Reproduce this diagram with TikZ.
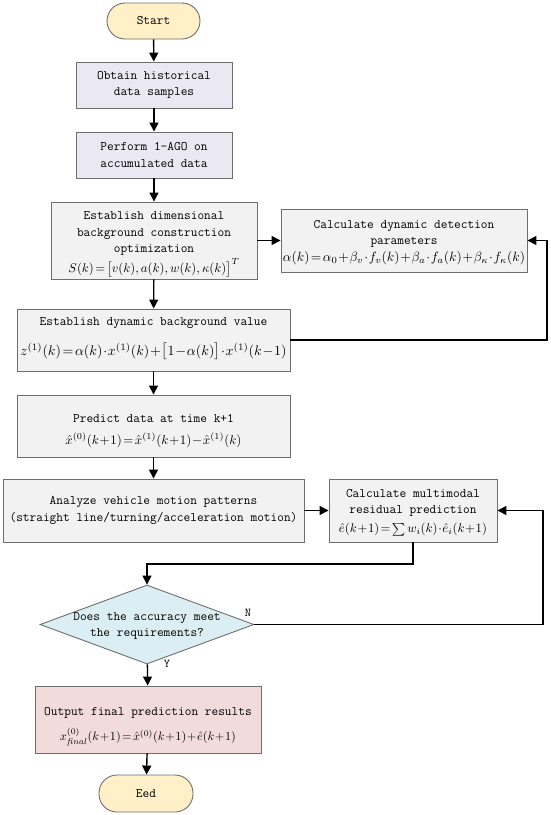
\documentclass[tikz,border=0pt]{standalone}
\usepackage{graphicx}
\usetikzlibrary{arrows.meta,shapes.geometric}
\definecolor{termfill}{HTML}{FFF0C8}
\definecolor{lavfill}{HTML}{EAE8F2}
\definecolor{grayfill}{HTML}{F2F2F2}
\definecolor{bluefill}{HTML}{DBEEF3}
\definecolor{pinkfill}{HTML}{F2DCDB}
\definecolor{bordergray}{HTML}{6E6E6E}
\newcommand{\fml}[2]{\resizebox{#1}{!}{$\medmuskip=1mu\thickmuskip=2mu #2$}}
\begin{document}
\begin{tikzpicture}[x=1pt,y=-1pt,
  base/.style={draw=bordergray, line width=0.9pt, align=center, inner sep=0pt,
    font=\fontsize{13}{16.5}\selectfont\ttfamily},
  term/.style={base, fill=termfill, rounded corners=18pt},
  lavbox/.style={base, fill=lavfill},
  graybox/.style={base, fill=grayfill},
  pinkbox/.style={base, fill=pinkfill},
  decision/.style={base, diamond, aspect=2.7, fill=bluefill},
  txt/.style={align=center, inner sep=0pt, font=\fontsize{13}{16.2}\selectfont\ttfamily},
  mth/.style={inner sep=0pt},
  arr/.style={-{Triangle[length=9pt,width=9pt]}, line width=1.4pt, black},
  lbl/.style={font=\fontsize{12}{14}\selectfont\ttfamily}
]
\useasboundingbox (0,0) rectangle (550,815);

\node[term, minimum width=93pt, minimum height=36pt] (start) at (153.5,21) {Start};
\node[lavbox, minimum width=156pt, minimum height=46pt] (obtain) at (154,85)
  {Obtain historical\\data samples};
\node[lavbox, minimum width=156pt, minimum height=46pt] (ago) at (154,155)
  {Perform 1-AGO on\\accumulated data};

\node[graybox, minimum width=206pt, minimum height=77pt] (dim) at (154,240.5) {};
\node[txt] (dimt) at (154,233.5) {Establish dimensional\\background construction\\optimization};
\node[mth] (dimm) at (154,268) {\fml{171pt}{S(k)=\bigl[v(k),a(k),w(k),\kappa(k)\bigr]^{T}}};

\node[graybox, minimum width=246pt, minimum height=63pt] (param) at (404,240.5) {};
\node[txt] (paramt) at (404,234) {Calculate dynamic detection\\parameters};
\node[mth] (paramm) at (404,258.5) {\fml{242pt}{\alpha(k)=\alpha_0+\beta_v\cdot f_v(k)+\beta_a\cdot f_a(k)+\beta_\kappa\cdot f_\kappa(k)}};

\node[graybox, minimum width=273pt, minimum height=62pt] (bg) at (153.5,340) {};
\node[txt] (bgt) at (153.5,323.5) {Establish dynamic background value};
\node[mth] (bgm) at (153.5,351.5) {\fml{266pt}{z^{(1)}(k)=\alpha(k)\cdot x^{(1)}(k)+\bigl[1-\alpha(k)\bigr]\cdot x^{(1)}(k-1)}};

\node[graybox, minimum width=273pt, minimum height=62pt] (pred) at (153.5,426) {};
\node[txt] (predt) at (153.5,418) {Predict data at time k+1};
\node[mth] (predm) at (153.5,440.5) {\fml{176pt}{{\hat{x}}^{(0)}(k+1)={\hat{x}}^{(1)}(k+1)-{\hat{x}}^{(1)}(k)}};

\node[graybox, minimum width=301pt, minimum height=63pt] (motion) at (153.5,510.5)
  {Analyze vehicle motion patterns\\(straight line/turning/acceleration motion)};

\node[graybox, minimum width=168pt, minimum height=63pt] (resid) at (413,510.5) {};
\node[txt] (residt) at (413,502.5) {Calculate multimodal\\residual prediction};
\node[mth] (residm) at (413,529.5) {\fml{148pt}{{\hat{e}}(k+1)=\sum w_i(k)\cdot{\hat{e}}_i(k+1)}};

\node[decision, minimum width=214pt, minimum height=79pt] (acc) at (147,624.5) {};
\node[txt] (acct) at (147,626) {Does the accuracy meet\\the requirements?};

\node[pinkbox, minimum width=226pt, minimum height=67pt] (final) at (148,719.5) {};
\node[txt] (finalt) at (148,713) {Output final prediction results};
\node[mth] (finalm) at (148,737) {\fml{176pt}{x^{(0)}_{\mathit{final}}(k+1)={\hat{x}}^{(0)}(k+1)+{\hat{e}}(k+1)}};

\node[term, minimum width=94pt, minimum height=37pt] (end) at (146,793.5) {Eed};

\node[lbl] (nlab) at (248,613) {N};
\node[lbl] (ylab) at (167,664) {Y};

\coordinate (r1) at (547,340);
\coordinate (r2) at (543,624.5);
\coordinate (m1) at (413,564);

\draw[arr] (start) -- (obtain);
\draw[arr] (obtain) -- (ago);
\draw[arr] (ago) -- (dim);
\draw[arr] (dim.east) -- (param.west |- dim.east);
\draw[arr] (dim) -- (bg);
\draw[arr] (bg.east) -- (r1) |- (param.east);
\draw[arr] (bg) -- (pred);
\draw[arr] (pred) -- (motion);
\draw[arr] (motion) -- (resid);
\draw[arr] (resid.south) -- (m1) -| (acc.north);
\draw[arr] (acc.east) -- (r2) |- (resid.east);
\draw[arr] (acc) -- (final);
\draw[arr] (final) -- (end);
\end{tikzpicture}
\end{document}
